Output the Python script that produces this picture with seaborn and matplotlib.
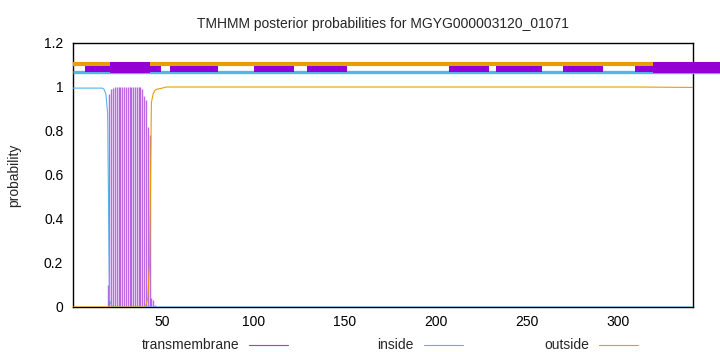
import numpy as np
import pandas as pd
import matplotlib
matplotlib.use("Agg")
import matplotlib.pyplot as plt
from matplotlib.lines import Line2D
from matplotlib.patches import Rectangle
import seaborn as sns

# ---- data ----
title = "TMHMM posterior probabilities for MGYG000003120_01071"
seq_len = 341

# transmembrane posterior (impulses), per residue
tm_pos = list(range(19, 48))
tm_val = [0.0, 0.10, 0.97, 0.99, 0.995, 1.0, 1.0, 1.0, 1.0, 1.0, 1.0, 1.0, 1.0,
          1.0, 1.0, 1.0, 1.0, 1.0, 1.0, 1.0, 0.99, 0.96, 0.94, 0.82, 0.78,
          0.04, 0.03, 0.01, 0.0]

# inside posterior (breakpoints of the line)
in_pos = [1, 17, 18, 19, 20, 21, 22, 23, 341]
in_val = [0.995, 0.995, 0.99, 0.97, 0.88, 0.03, 0.01, 0.0, 0.0]

# outside posterior (breakpoints of the line)
out_pos = [1, 40, 41, 42, 43, 44, 45, 46, 47, 50, 52, 310, 341]
out_val = [0.0, 0.0, 0.01, 0.04, 0.2, 0.93, 0.97, 0.985, 0.99, 0.995, 1.0, 1.0, 0.998]

# top band: predicted segments
band_start, band_end = 1, 356
seg_start = [7.6, 54.4, 100.4, 129.3, 207.3, 233.1, 269.8, 309.0]
seg_end = [49.3, 80.3, 122.0, 151.3, 229.3, 258.2, 291.8, 356.0]
tall_start = [21.5, 319.0]
tall_end = [43.4, 356.0]

xticks = [50, 100, 150, 200, 250, 300]
yticks = [0, 0.2, 0.4, 0.6, 0.8, 1.0, 1.2]
yticklabels = ["0", "0.2", "0.4", "0.6", "0.8", "1", "1.2"]

# ---- styling ----
sns.set_style("white")
plt.rcParams["font.family"] = ["Liberation Sans", "DejaVu Sans"]
plt.rcParams["font.size"] = 10

C_TM = "#9400d3"
C_IN = "#56b4e9"
C_OUT = "#e69f00"

fig = plt.figure(figsize=(7.2, 3.52), dpi=100)
ax = fig.add_axes([73/720, 1-307/352, 620/720, 264/352])

ax.vlines(tm_pos, 0, tm_val, color="#a33ad8", alpha=0.75, linewidth=1.0,
          zorder=3)
sns.lineplot(x=in_pos, y=in_val, ax=ax, color=C_IN, linewidth=0.8, zorder=4)
sns.lineplot(x=out_pos, y=out_val, ax=ax, color=C_OUT, linewidth=0.8, zorder=4)

# top band
ax.plot([band_start, band_end], [1.105, 1.105], color=C_OUT, linewidth=3.0,
        solid_capstyle="butt", clip_on=False, zorder=5)
ax.plot([band_start, band_end], [1.067, 1.067], color=C_IN, linewidth=2.4,
        solid_capstyle="butt", clip_on=False, zorder=5)
for s, e in zip(seg_start, seg_end):
    ax.add_patch(Rectangle((s, 1.068), e - s, 0.027, facecolor=C_TM,
                           edgecolor="none", clip_on=False, zorder=6))
for s, e in zip(tall_start, tall_end):
    ax.add_patch(Rectangle((s, 1.062), e - s, 0.05, facecolor=C_TM,
                           edgecolor="none", clip_on=False, zorder=6))

ax.set_xlim(1, seq_len)
ax.set_ylim(0, 1.2)
ax.set_xticks(xticks)
ax.set_yticks(yticks)
ax.set_yticklabels(yticklabels)
ax.tick_params(direction="in", length=4, width=0.8, pad=7, colors="black",
               labelsize=10)
ax.tick_params(axis="x", pad=6)
for sp in ax.spines.values():
    sp.set_color("black")
    sp.set_linewidth(1.0)
    sp.set_zorder(2)

ax.set_ylabel("probability", fontsize=10)
ax.yaxis.set_label_coords(-0.084, 0.5)
ax.set_title(title, fontsize=10, pad=11)

# legend (gnuplot style: text then sample line)
leg_y = 1 - 345/352
entries = [("transmembrane", "#a33ad8", 239, 249, 288),
           ("inside", C_IN, 414, 424, 463),
           ("outside", C_OUT, 589, 599, 638)]
for label, col, tx, l0, l1 in entries:
    fig.text(tx/720, leg_y, label, ha="right", va="center", fontsize=10)
    fig.add_artist(Line2D([l0/720, l1/720], [leg_y, leg_y], color=col,
                          linewidth=0.8, transform=fig.transFigure))

fig.savefig("out.png", dpi=100)
